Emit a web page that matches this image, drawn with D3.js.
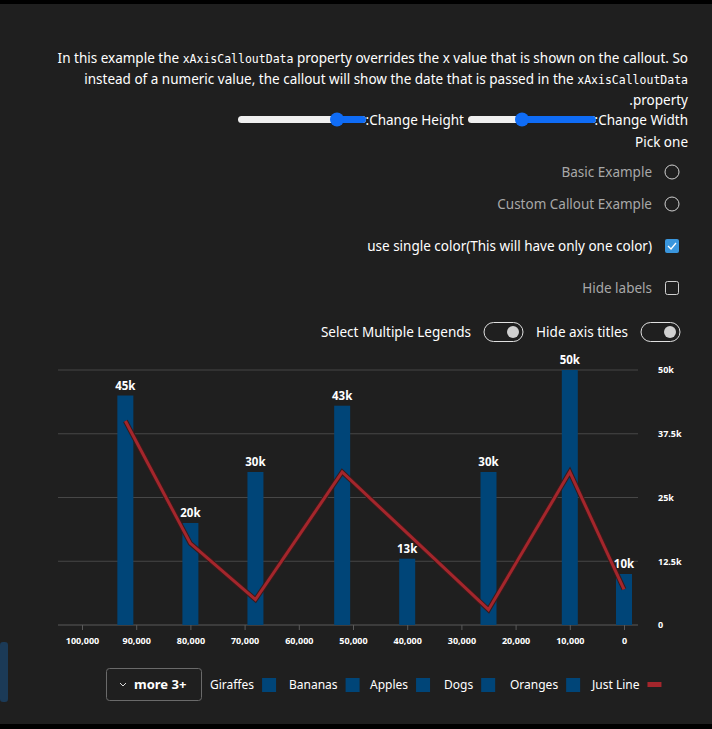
<!DOCTYPE html>
<html><head><meta charset="utf-8">
<script src="https://cdn.jsdelivr.net/npm/d3@7"></script>
<style>
body{margin:0;background:#000;}
svg{display:block;font-family:"Noto Sans",sans-serif;}
</style></head>
<body><svg id="c" width="712" height="729"></svg>
<script>
// data
const barX = [92000, 80000, 68000, 52000, 40000, 25000, 10000, 0];
const barValues = [45000, 20000, 30000, 43000, 13000, 30000, 50000, 10000];
const barLabels = ["45k", "20k", "30k", "43k", "13k", "30k", "50k", "10k"];
const lineX = [92000, 80000, 68000, 52000, 40000, 25000, 10000, 0];
const lineValues = [40000, 16000, 5000, 30000, 18000, 3000, 30000, 7000];
const xTicks = [100000, 90000, 80000, 70000, 60000, 50000, 40000, 30000, 20000, 10000, 0];
const yTicks = [0, 12500, 25000, 37500, 50000];
const yTickLabels = ["0", "12.5k", "25k", "37.5k", "50k"];
const legendNames = ["Giraffes", "Bananas", "Apples", "Dogs", "Oranges", "Just Line"];

const svg = d3.select("#c");
svg.append("rect").attr("x", 0).attr("y", 4).attr("width", 712).attr("height", 720).attr("fill", "#1f1f1f");
svg.append("rect").attr("x", 0).attr("y", 642).attr("width", 8).attr("height", 60).attr("rx", 3).attr("fill", "#1b3a57");

const ui = svg.append("g").attr("fill", "#fff").attr("font-size", 13.5);
const R = 688;
function para(y, parts) {
  const t = ui.append("text").attr("y", y).attr("x", R).attr("text-anchor", "end");
  parts.forEach(p => t.append("tspan").text(p[0])
    .attr("font-family", p[1] ? "DejaVu Sans Mono, monospace" : null)
    .attr("font-size", p[1] ? 11.5 : null));
}
para(63, [["In this example the "], ["xAxisCalloutData", 1], [" property overrides the x value that is shown on the callout. So"]]);
para(84, [["instead of a numeric value, the callout will show the date that is passed in the "], ["xAxisCalloutData", 1]]);
para(105, [[".property"]]);

function slider(x0, x1, th) {
  ui.append("rect").attr("x", x0).attr("y", 116).attr("width", x1 - x0).attr("height", 7).attr("rx", 3.5).attr("fill", "#efefef");
  ui.append("rect").attr("x", th).attr("y", 116).attr("width", x1 - th).attr("height", 7).attr("rx", 3.5).attr("fill", "#0f6cf6");
  ui.append("circle").attr("cx", th).attr("cy", 119.5).attr("r", 7).attr("fill", "#0f6cf6");
}
slider(238, 366, 337);
ui.append("text").attr("x", 464).attr("y", 125).attr("text-anchor", "end").text(":Change Height");
slider(468, 596, 522);
ui.append("text").attr("x", R).attr("y", 125).attr("text-anchor", "end").text(":Change Width");
ui.append("text").attr("x", R).attr("y", 147).attr("text-anchor", "end").text("Pick one");

[["Basic Example", 172], ["Custom Callout Example", 204]].forEach(([t, y]) => {
  ui.append("text").attr("x", 652).attr("y", y + 5).attr("text-anchor", "end").attr("fill", "#a8a8a8").text(t);
  ui.append("circle").attr("cx", 672).attr("cy", y).attr("r", 7).attr("fill", "none").attr("stroke", "#d0d0d0");
});
ui.append("text").attr("x", 652).attr("y", 251).attr("text-anchor", "end").text("use single color(This will have only one color)");
ui.append("rect").attr("x", 665).attr("y", 239).attr("width", 14).attr("height", 14).attr("rx", 2).attr("fill", "#3a96dd");
ui.append("path").attr("d", "M668,246 l3,3 l5,-6").attr("stroke", "#fff").attr("fill", "none").attr("stroke-width", 1.3);
ui.append("text").attr("x", 652).attr("y", 293).attr("text-anchor", "end").attr("fill", "#a8a8a8").text("Hide labels");
ui.append("rect").attr("x", 665.5).attr("y", 281.5).attr("width", 13).attr("height", 13).attr("rx", 2).attr("fill", "none").attr("stroke", "#d0d0d0");

function toggle(x, label) {
  ui.append("text").attr("x", x - 13).attr("y", 337).attr("text-anchor", "end").text(label);
  ui.append("rect").attr("x", x).attr("y", 322.5).attr("width", 39).attr("height", 19).attr("rx", 9.5).attr("fill", "none").attr("stroke", "#e0e0e0");
  ui.append("circle").attr("cx", x + 29).attr("cy", 332).attr("r", 6).attr("fill", "#d0d0d0");
}
toggle(484, "Select Multiple Legends");
toggle(641, "Hide axis titles");

// chart
const x = d3.scaleLinear().domain([100000, 0]).range([82, 624]);
const y = d3.scaleLinear().domain([0, 50000]).range([625, 370]);
const g = svg.append("g");

g.append("g").selectAll("line").data(yTicks).join("line")
  .attr("x1", 58).attr("x2", 638).attr("y1", d => y(d)).attr("y2", d => y(d))
  .attr("stroke", d => d === 0 ? "#5a5a5a" : "#474747");

const yAxis = d3.axisRight(y).tickValues(yTicks).tickFormat((d, i) => yTickLabels[i]).tickSize(0).tickPadding(0);
g.append("g").attr("transform", "translate(658,0)").call(yAxis)
  .call(a => a.select(".domain").remove())
  .selectAll("text").attr("fill", "#fff").attr("font-size", 9).attr("font-weight", "bold").attr("font-family", "Noto Sans");

const xAxis = d3.axisBottom(x).tickValues(xTicks).tickFormat(d3.format(",")).tickSize(5).tickPadding(8);
g.append("g").attr("transform", "translate(0,625)").call(xAxis)
  .call(a => a.select(".domain").remove())
  .call(a => a.selectAll("line").attr("stroke", "#5a5a5a"))
  .selectAll("text").attr("fill", "#fff").attr("font-size", 9).attr("font-weight", "bold").attr("font-family", "Noto Sans");

const bw = 16;
g.append("g").selectAll("rect").data(barValues).join("rect")
  .attr("x", (d, i) => x(barX[i]) - bw / 2).attr("width", bw)
  .attr("y", d => y(d)).attr("height", d => 625 - y(d)).attr("fill", "#004578");
g.append("g").selectAll("text").data(barValues).join("text")
  .attr("x", (d, i) => x(barX[i])).attr("y", d => y(d) - 6).attr("text-anchor", "middle")
  .attr("fill", "#fff").attr("font-size", 11.5).attr("font-weight", "bold").text((d, i) => barLabels[i]);

const line = d3.line().x((d, i) => x(lineX[i])).y(d => y(d));
g.append("path").datum(lineValues).attr("d", line).attr("fill", "none")
  .attr("stroke", "#3a1a1a").attr("stroke-width", 5).attr("stroke-linejoin", "miter");
g.append("path").datum(lineValues).attr("d", line).attr("fill", "none")
  .attr("stroke", "#a4262c").attr("stroke-width", 3).attr("stroke-linejoin", "miter");

// legend
const lg = svg.append("g").attr("font-size", 12).attr("fill", "#fff");
lg.append("rect").attr("x", 106.5).attr("y", 668.5).attr("width", 95).attr("height", 32).attr("rx", 3)
  .attr("fill", "#1f1f1f").attr("stroke", "#6a6a6a");
lg.append("path").attr("d", "M120,683 l3,3 l3,-3").attr("stroke", "#ddd").attr("fill", "none");
lg.append("text").attr("x", 134).attr("y", 689).attr("font-weight", "bold").attr("font-size", 13).text("more 3+");
const itemX = [210, 289, 370, 444, 510, 592];
legendNames.forEach((n, i) => {
  const t = lg.append("text").attr("x", itemX[i]).attr("y", 689).text(n);
  const w = t.node().getComputedTextLength();
  if (i < 5) lg.append("rect").attr("x", itemX[i] + w + 8).attr("y", 678).attr("width", 14).attr("height", 14).attr("fill", "#004578");
  else lg.append("rect").attr("x", itemX[i] + w + 8).attr("y", 682).attr("width", 14).attr("height", 5).attr("fill", "#a4262c");
});
</script></body></html>
